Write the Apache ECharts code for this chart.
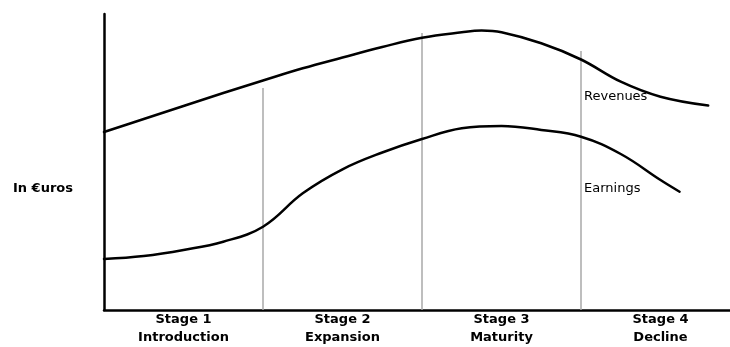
<!DOCTYPE html>
<html><head><meta charset="utf-8">
<script src="https://cdn.jsdelivr.net/npm/echarts@6/dist/echarts.min.js"></script>
<style>html,body{margin:0;padding:0;background:#fff}#c{width:730px;height:347px}</style>
</head><body><div id="c"></div>
<script>
// x in stage units (0..4), y in arbitrary value units
const stageLabels = ['Stage 1\nIntroduction', 'Stage 2\nExpansion', 'Stage 3\nMaturity', 'Stage 4\nDecline'];
const revenueX = [0, 0.25, 0.5, 0.75, 1.0, 1.25, 1.5, 1.75, 2.0, 2.25, 2.375, 2.5, 2.75, 3.0, 3.25, 3.5, 3.8];
const revenueY = [178, 191, 204, 217, 229.5, 241.7, 252.5, 263, 272.3, 277.7, 279.4, 277.7, 266.7, 250.5, 228.3, 213.3, 204.5];
const earningsX = [0, 0.25, 0.5, 0.75, 1.0, 1.25, 1.5, 1.75, 2.0, 2.25, 2.5, 2.75, 3.0, 3.25, 3.5, 3.62];
const earningsY = [51, 54, 60, 68.3, 83.3, 116.7, 140.7, 157.5, 171, 181.7, 184, 180, 173.3, 156, 130, 118.3];
const dividerX = [1, 2, 3];
const dividerTop = [222, 277, 259];
const seriesNames = ['Revenues', 'Earnings'];
const yAxisTitle = 'In €uros';

const zip = (xs, ys) => xs.map((x, i) => [x, ys[i]]);
const chart = echarts.init(document.getElementById('c'));
const dividers = dividerX.map((x, i) => ({
  type: 'line', data: [[x, 0], [x, dividerTop[i]]], symbol: 'none', silent: true, z: 1,
  lineStyle: { color: '#a8a8a8', width: 1.5 }
}));
chart.setOption({
  animation: false,
  grid: { left: 104, top: 14, bottom: 37, width: 636, outerBoundsMode: 'none', containLabel: false },
  xAxis: [
    { type: 'value', min: 0, max: 4, axisLine: { show: true, lineStyle: { color: '#000', width: 2.5 } },
      axisTick: { show: false }, axisLabel: { show: false }, splitLine: { show: false } },
    { type: 'category', position: 'bottom', data: stageLabels, boundaryGap: true,
      axisLine: { show: false }, axisTick: { show: false },
      axisLabel: { margin: 1, color: '#000', fontFamily: 'DejaVu Sans', fontWeight: 'bold', fontSize: 13, lineHeight: 18 } }
  ],
  yAxis: { type: 'value', min: 0, max: 296, axisLine: { show: true, lineStyle: { color: '#000', width: 2.5 } },
    axisTick: { show: false }, axisLabel: { show: false }, splitLine: { show: false } },
  series: [
    ...dividers,
    { name: seriesNames[0], type: 'line', data: zip(revenueX, revenueY), smooth: 0.4, symbol: 'none', z: 3,
      lineStyle: { color: '#000', width: 2.5, cap: 'round' } },
    { name: seriesNames[1], type: 'line', data: zip(earningsX, earningsY), smooth: 0.4, symbol: 'none', z: 3,
      lineStyle: { color: '#000', width: 2.5, cap: 'round' } }
  ],
  graphic: [
    { type: 'text', left: 13, top: 182, style: { text: yAxisTitle, fill: '#000', font: 'bold 13px "DejaVu Sans"' } },
    { type: 'text', left: 584, top: 90, style: { text: seriesNames[0], fill: '#000', font: '13px "DejaVu Sans"' } },
    { type: 'text', left: 584, top: 182, style: { text: seriesNames[1], fill: '#000', font: '13px "DejaVu Sans"' } }
  ]
});
</script></body></html>
